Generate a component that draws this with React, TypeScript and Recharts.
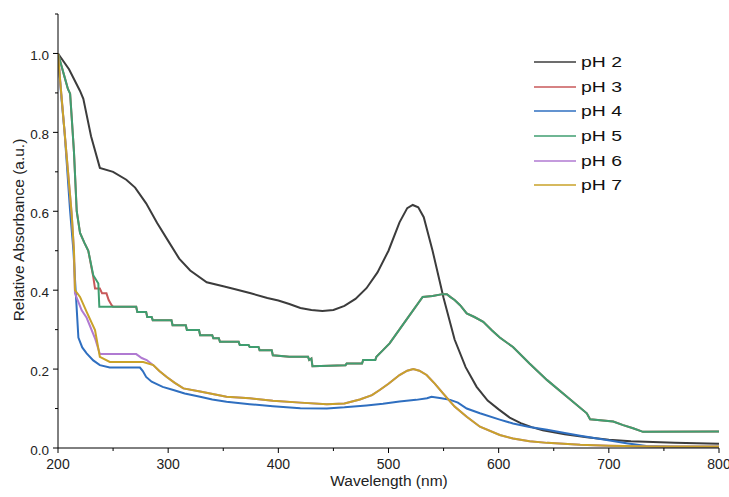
import React from "react";
import { LineChart, Line, XAxis, YAxis, Legend } from "recharts";

const seriesNames = ["pH 2", "pH 3", "pH 4", "pH 5", "pH 6", "pH 7"];
const seriesColors = ["#3c3c3c", "#c8585a", "#2f6fc0", "#3f9e70", "#b07ad2", "#c9a229"];

const ph2Wl = [200, 210, 220, 223, 230, 238, 250, 262, 270, 280, 290, 300, 310, 320, 335, 350, 360, 375, 390, 400, 410, 420, 430, 440, 450, 460, 470, 480, 490, 500, 510, 517, 522, 527, 532, 540, 550, 560, 570, 580, 590, 600, 610, 620, 630, 640, 650, 660, 670, 680, 690, 700, 720, 740, 760, 780, 800];
const ph2Abs = [1.0, 0.96, 0.905, 0.885, 0.79, 0.71, 0.70, 0.68, 0.66, 0.62, 0.57, 0.525, 0.48, 0.45, 0.42, 0.41, 0.403, 0.392, 0.38, 0.374, 0.365, 0.355, 0.35, 0.347, 0.35, 0.36, 0.378, 0.405, 0.445, 0.50, 0.572, 0.608, 0.616, 0.61, 0.585, 0.50, 0.38, 0.275, 0.205, 0.155, 0.12, 0.098, 0.077, 0.063, 0.053, 0.045, 0.04, 0.035, 0.031, 0.027, 0.024, 0.021, 0.017, 0.015, 0.013, 0.012, 0.011];

const ph3Wl = [200, 203, 206, 209, 211, 212.4, 214.5, 217, 220, 224, 227.5, 232, 233.6, 238, 240, 244, 246, 248.7, 250, 271, 272, 280, 281, 285, 286, 303, 304, 316, 317, 328, 329, 340, 341, 346, 347, 364, 365, 373, 374, 382, 383, 394, 395, 410, 427, 428, 430, 431, 461, 462, 476, 477, 488, 489, 495, 501, 516, 531, 540, 549, 553, 556, 560, 565, 571, 578, 586, 594, 601, 613, 628, 644, 662, 680, 683, 704, 713, 722, 731, 800];
const ph3Abs = [1.0, 0.97, 0.94, 0.91, 0.898, 0.84, 0.75, 0.60, 0.545, 0.52, 0.50, 0.434, 0.404, 0.404, 0.392, 0.392, 0.375, 0.362, 0.358, 0.358, 0.345, 0.345, 0.332, 0.332, 0.324, 0.324, 0.311, 0.311, 0.299, 0.299, 0.286, 0.286, 0.278, 0.278, 0.269, 0.269, 0.261, 0.261, 0.256, 0.256, 0.248, 0.248, 0.235, 0.231, 0.231, 0.223, 0.227, 0.207, 0.21, 0.214, 0.214, 0.223, 0.223, 0.231, 0.248, 0.265, 0.324, 0.383, 0.385, 0.39, 0.39, 0.383, 0.375, 0.362, 0.341, 0.332, 0.32, 0.298, 0.28, 0.256, 0.214, 0.172, 0.13, 0.088, 0.073, 0.067, 0.058, 0.05, 0.041, 0.042];

const ph4Wl = [200, 202.7, 206, 211, 214, 216, 218.5, 222, 226, 232, 238, 247, 274.4, 277, 280, 285, 295, 304.7, 315, 329, 340, 353, 374, 395, 420, 444, 460, 480, 495, 510, 525, 535, 539, 548, 556, 563, 571, 583, 601, 613, 628, 644, 660, 674, 698, 716, 734, 760, 800];
const ph4Abs = [1.0, 0.90, 0.80, 0.60, 0.50, 0.40, 0.28, 0.255, 0.24, 0.222, 0.21, 0.204, 0.204, 0.195, 0.18, 0.168, 0.155, 0.147, 0.138, 0.13, 0.123, 0.117, 0.111, 0.106, 0.101, 0.10, 0.103, 0.108, 0.112, 0.118, 0.122, 0.126, 0.13, 0.126, 0.122, 0.115, 0.10, 0.088, 0.072, 0.062, 0.053, 0.046, 0.038, 0.031, 0.02, 0.012, 0.005, 0.003, 0.003];

const ph5Wl = [200, 203, 206, 209, 211, 212.4, 214.5, 217, 220, 224, 227.5, 232, 236.6, 237.5, 271, 272, 280, 281, 285, 286, 303, 304, 316, 317, 328, 329, 340, 341, 346, 347, 364, 365, 373, 374, 382, 383, 394, 395, 410, 427, 428, 430, 431, 461, 462, 476, 477, 488, 489, 495, 501, 516, 531, 540, 549, 553, 556, 560, 565, 571, 578, 586, 594, 601, 613, 628, 644, 662, 680, 683, 704, 713, 722, 731, 800];
const ph5Abs = [1.0, 0.97, 0.94, 0.91, 0.898, 0.84, 0.75, 0.60, 0.545, 0.52, 0.50, 0.438, 0.417, 0.358, 0.358, 0.345, 0.345, 0.332, 0.332, 0.324, 0.324, 0.311, 0.311, 0.299, 0.299, 0.286, 0.286, 0.278, 0.278, 0.269, 0.269, 0.261, 0.261, 0.256, 0.256, 0.248, 0.248, 0.235, 0.231, 0.231, 0.223, 0.227, 0.207, 0.21, 0.214, 0.214, 0.223, 0.223, 0.231, 0.248, 0.265, 0.324, 0.383, 0.385, 0.39, 0.39, 0.383, 0.375, 0.362, 0.341, 0.332, 0.32, 0.298, 0.28, 0.256, 0.214, 0.172, 0.13, 0.088, 0.073, 0.067, 0.058, 0.05, 0.041, 0.042];

const ph6Wl = [200, 202, 206, 212.4, 214.5, 215.4, 221.5, 226, 233.6, 238, 271, 276, 280.5, 286.5, 292, 298.7, 306, 313.8, 329, 353, 374, 395, 420, 444, 460, 474, 485, 492, 500, 510, 517, 522.5, 528, 534.6, 542, 549.7, 560, 571, 583, 601, 613, 628, 644, 674, 700, 740, 800];
const ph6Abs = [1.0, 0.93, 0.80, 0.594, 0.50, 0.392, 0.349, 0.33, 0.278, 0.238, 0.238, 0.228, 0.223, 0.21, 0.195, 0.18, 0.165, 0.151, 0.143, 0.13, 0.126, 0.12, 0.115, 0.111, 0.113, 0.123, 0.134, 0.147, 0.163, 0.185, 0.196, 0.20, 0.196, 0.185, 0.163, 0.138, 0.105, 0.079, 0.054, 0.033, 0.024, 0.017, 0.013, 0.008, 0.006, 0.004, 0.004];

const ph7Wl = [200, 202, 206, 212.4, 214.5, 215.4, 220, 226, 233.6, 238, 247, 277.4, 286.5, 292, 298.7, 306, 313.8, 329, 353, 374, 395, 420, 444, 460, 474, 485, 492, 500, 510, 517, 522.5, 528, 534.6, 542, 549.7, 560, 571, 583, 601, 613, 628, 644, 674, 700, 740, 800];
const ph7Abs = [1.0, 0.93, 0.80, 0.594, 0.50, 0.40, 0.383, 0.345, 0.299, 0.231, 0.218, 0.218, 0.21, 0.195, 0.18, 0.165, 0.151, 0.143, 0.13, 0.126, 0.12, 0.115, 0.111, 0.113, 0.123, 0.134, 0.147, 0.163, 0.185, 0.196, 0.20, 0.196, 0.185, 0.163, 0.138, 0.105, 0.079, 0.054, 0.033, 0.024, 0.017, 0.013, 0.008, 0.006, 0.004, 0.004];

const xTicks = [200, 250, 300, 350, 400, 450, 500, 550, 600, 650, 700, 750, 800];
const yTicks = [0, 0.1, 0.2, 0.3, 0.4, 0.5, 0.6, 0.7, 0.8, 0.9, 1.0, 1.1];

const xTitle = "Wavelength (nm)";
const yTitle = "Relative Absorbance (a.u.)";

const FONT = "'Liberation Sans', Arial, sans-serif";

const zip = (wl: number[], ab: number[]) => wl.map((x, i) => ({ x, y: ab[i] }));
const allSeries = [
  zip(ph2Wl, ph2Abs),
  zip(ph3Wl, ph3Abs),
  zip(ph4Wl, ph4Abs),
  zip(ph5Wl, ph5Abs),
  zip(ph6Wl, ph6Abs),
  zip(ph7Wl, ph7Abs),
];

const XTick = (props: any) => {
  const { x, y, payload } = props;
  const major = payload.value % 100 === 0;
  return (
    <g>
      <line x1={x} y1={y} x2={x} y2={y + (major ? 5 : 3)} stroke="#000" strokeWidth={1} />
      {major && (
        <text x={x} y={y + 20.5} textAnchor="middle" fontSize={14} fontFamily={FONT} fill="#222">
          {payload.value}
        </text>
      )}
    </g>
  );
};

const YTick = (props: any) => {
  const { x, y, payload } = props;
  const major = Math.round(payload.value * 10) % 2 === 0;
  return (
    <g>
      <line x1={x} y1={y} x2={x - (major ? 5 : 3)} y2={y} stroke="#000" strokeWidth={1} />
      {major && (
        <text x={x - 9} y={y + 6.5} textAnchor="end" fontSize={13.5} fontFamily={FONT} fill="#222">
          {payload.value.toFixed(1)}
        </text>
      )}
    </g>
  );
};

const renderLegend = () => (
  <div style={{ fontFamily: FONT }}>
    {seriesNames.map((n, i) => (
      <div key={n} style={{ display: "flex", alignItems: "center", height: 24.6 }}>
        <svg width={42} height={4} style={{ display: "block" }}>
          <line x1={0} y1={2} x2={42} y2={2} stroke={seriesColors[i]} strokeWidth={1.6} />
        </svg>
        <span
          style={{
            marginLeft: 5,
            fontSize: 15.5,
            color: "#111",
            lineHeight: "20px",
            display: "inline-block",
            transform: "scaleX(1.25)",
            transformOrigin: "left center",
            whiteSpace: "nowrap",
          }}
        >
          {n}
        </span>
      </div>
    ))}
  </div>
);

export default function App() {
  return (
    <div style={{ position: "absolute", left: 0, top: 0, width: 729, height: 497, background: "#fff" }}>
      <LineChart width={729} height={497} margin={{ top: 14, right: 10, bottom: 0, left: 0 }}>
        <XAxis
          type="number"
          dataKey="x"
          domain={[200, 800]}
          ticks={xTicks}
          interval={0}
          height={49}
          tickSize={0}
          tickMargin={0}
          tickLine={false}
          tick={<XTick />}
          axisLine={{ stroke: "#000", strokeWidth: 1 }}
          allowDataOverflow
          label={{
            content: () => (
              <text x={389} y={486} textAnchor="middle" fontSize={15.5} fontFamily={FONT} fill="#222">
                {xTitle}
              </text>
            ),
          }}
        />
        <YAxis
          type="number"
          domain={[0, 1.1]}
          ticks={yTicks}
          interval={0}
          width={58}
          tickSize={0}
          tickMargin={0}
          tickLine={false}
          tick={<YTick />}
          axisLine={{ stroke: "#000", strokeWidth: 1 }}
          allowDataOverflow
          label={{
            content: () => (
              <text
                x={24}
                y={230}
                transform="rotate(-90 24 230)"
                textAnchor="middle"
                fontSize={15.5}
                fontFamily={FONT}
                fill="#222"
              >
                {yTitle}
              </text>
            ),
          }}
        />
        <Legend
          layout="vertical"
          verticalAlign="middle"
          align="center"
          content={renderLegend}
          wrapperStyle={{ position: "absolute", top: 50, left: 534, width: 130 }}
        />
        {allSeries.map((d, i) => (
          <Line
            key={seriesNames[i]}
            data={d}
            dataKey="y"
            name={seriesNames[i]}
            type="linear"
            stroke={seriesColors[i]}
            strokeWidth={2}
            dot={false}
            activeDot={false}
            isAnimationActive={false}
          />
        ))}
      </LineChart>
    </div>
  );
}
